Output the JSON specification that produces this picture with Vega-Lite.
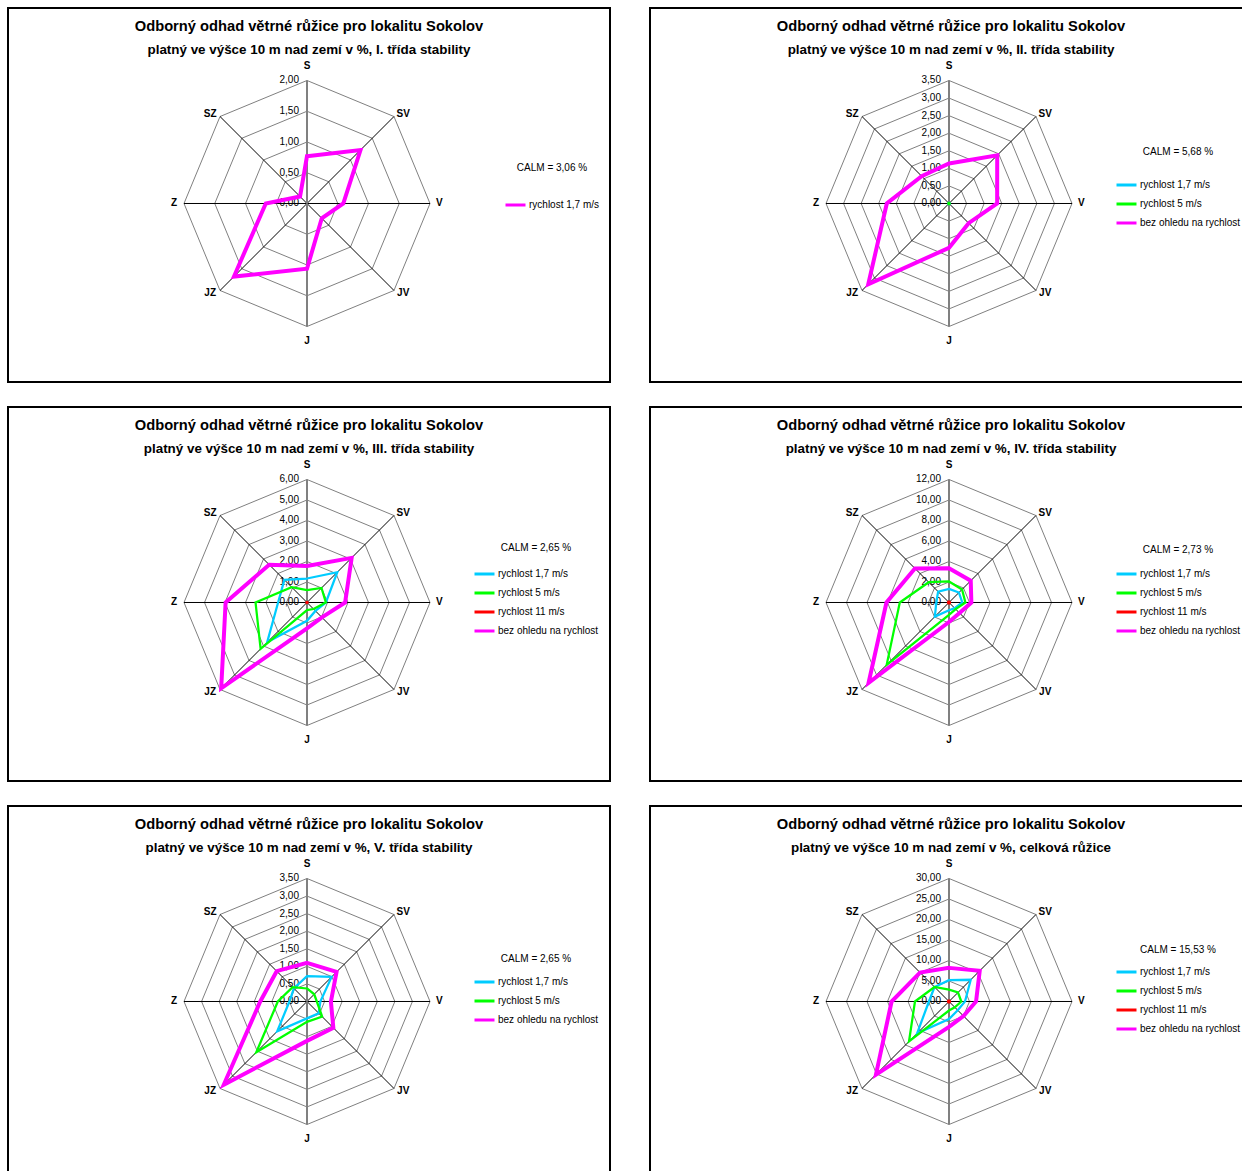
{
"$schema":"https://vega.github.io/schema/vega-lite/v6.json",
"padding":{"left":7,"top":7,"right":0,"bottom":0},
"background":"white",
"columns":2,
"spacing":{"row":23,"column":38},
"resolve":{"scale":{"color":"independent"},"legend":{"color":"independent"}},
"datasets":{
"dirs":[{"d":"S"},{"d":"SV"},{"d":"V"},{"d":"JV"},{"d":"J"},{"d":"JZ"},{"d":"Z"},{"d":"SZ"}],
"ticks":[
{"p":1,"t":[0,0.5,1,1.5,2],"k":["S","SV","V","JV","J","JZ","Z","SZ"]},
{"p":2,"t":[0,0.5,1,1.5,2,2.5,3,3.5],"k":["S","SV","V","JV","J","JZ","Z","SZ"]},
{"p":3,"t":[0,1,2,3,4,5,6],"k":["S","SV","V","JV","J","JZ","Z","SZ"]},
{"p":4,"t":[0,2,4,6,8,10,12],"k":["S","SV","V","JV","J","JZ","Z","SZ"]},
{"p":5,"t":[0,0.5,1,1.5,2,2.5,3,3.5],"k":["S","SV","V","JV","J","JZ","Z","SZ"]},
{"p":6,"t":[0,5,10,15,20,25,30],"k":["S","SV","V","JV","J","JZ","Z","SZ"]}
],
"wind":[
{"p":1,"s":"rychlost 1,7 m/s","d":"S","v":0.77},{"p":1,"s":"rychlost 1,7 m/s","d":"SV","v":1.23},{"p":1,"s":"rychlost 1,7 m/s","d":"V","v":0.59},{"p":1,"s":"rychlost 1,7 m/s","d":"JV","v":0.34},{"p":1,"s":"rychlost 1,7 m/s","d":"J","v":1.06},{"p":1,"s":"rychlost 1,7 m/s","d":"JZ","v":1.68},{"p":1,"s":"rychlost 1,7 m/s","d":"Z","v":0.67},{"p":1,"s":"rychlost 1,7 m/s","d":"SZ","v":0.16},

{"p":2,"s":"rychlost 1,7 m/s","d":"S","v":0.02},{"p":2,"s":"rychlost 1,7 m/s","d":"SV","v":0.02},{"p":2,"s":"rychlost 1,7 m/s","d":"V","v":0.02},{"p":2,"s":"rychlost 1,7 m/s","d":"JV","v":0.02},{"p":2,"s":"rychlost 1,7 m/s","d":"J","v":0.02},{"p":2,"s":"rychlost 1,7 m/s","d":"JZ","v":0.02},{"p":2,"s":"rychlost 1,7 m/s","d":"Z","v":0.02},{"p":2,"s":"rychlost 1,7 m/s","d":"SZ","v":0.02},
{"p":2,"s":"rychlost 5 m/s","d":"S","v":0.02},{"p":2,"s":"rychlost 5 m/s","d":"SV","v":0.02},{"p":2,"s":"rychlost 5 m/s","d":"V","v":0.02},{"p":2,"s":"rychlost 5 m/s","d":"JV","v":0.02},{"p":2,"s":"rychlost 5 m/s","d":"J","v":0.02},{"p":2,"s":"rychlost 5 m/s","d":"JZ","v":0.02},{"p":2,"s":"rychlost 5 m/s","d":"Z","v":0.02},{"p":2,"s":"rychlost 5 m/s","d":"SZ","v":0.02},
{"p":2,"s":"bez ohledu na rychlost","d":"S","v":1.14},{"p":2,"s":"bez ohledu na rychlost","d":"SV","v":1.94},{"p":2,"s":"bez ohledu na rychlost","d":"V","v":1.37},{"p":2,"s":"bez ohledu na rychlost","d":"JV","v":0.79},{"p":2,"s":"bez ohledu na rychlost","d":"J","v":1.26},{"p":2,"s":"bez ohledu na rychlost","d":"JZ","v":3.25},{"p":2,"s":"bez ohledu na rychlost","d":"Z","v":1.77},{"p":2,"s":"bez ohledu na rychlost","d":"SZ","v":1.10},

{"p":3,"s":"rychlost 1,7 m/s","d":"S","v":1.17},{"p":3,"s":"rychlost 1,7 m/s","d":"SV","v":2.09},{"p":3,"s":"rychlost 1,7 m/s","d":"V","v":0.92},{"p":3,"s":"rychlost 1,7 m/s","d":"JV","v":0.58},{"p":3,"s":"rychlost 1,7 m/s","d":"J","v":0.89},{"p":3,"s":"rychlost 1,7 m/s","d":"JZ","v":2.75},{"p":3,"s":"rychlost 1,7 m/s","d":"Z","v":1.41},{"p":3,"s":"rychlost 1,7 m/s","d":"SZ","v":1.56},
{"p":3,"s":"rychlost 5 m/s","d":"S","v":0.60},{"p":3,"s":"rychlost 5 m/s","d":"SV","v":1.00},{"p":3,"s":"rychlost 5 m/s","d":"V","v":0.92},{"p":3,"s":"rychlost 5 m/s","d":"JV","v":0.45},{"p":3,"s":"rychlost 5 m/s","d":"J","v":0.37},{"p":3,"s":"rychlost 5 m/s","d":"JZ","v":3.20},{"p":3,"s":"rychlost 5 m/s","d":"Z","v":2.51},{"p":3,"s":"rychlost 5 m/s","d":"SZ","v":1.06},
{"p":3,"s":"rychlost 11 m/s","d":"S","v":0.03},{"p":3,"s":"rychlost 11 m/s","d":"SV","v":0.03},{"p":3,"s":"rychlost 11 m/s","d":"V","v":0.03},{"p":3,"s":"rychlost 11 m/s","d":"JV","v":0.03},{"p":3,"s":"rychlost 11 m/s","d":"J","v":0.03},{"p":3,"s":"rychlost 11 m/s","d":"JZ","v":0.03},{"p":3,"s":"rychlost 11 m/s","d":"Z","v":0.03},{"p":3,"s":"rychlost 11 m/s","d":"SZ","v":0.03},
{"p":3,"s":"bez ohledu na rychlost","d":"S","v":1.78},{"p":3,"s":"bez ohledu na rychlost","d":"SV","v":3.08},{"p":3,"s":"bez ohledu na rychlost","d":"V","v":1.86},{"p":3,"s":"bez ohledu na rychlost","d":"JV","v":1.03},{"p":3,"s":"bez ohledu na rychlost","d":"J","v":1.26},{"p":3,"s":"bez ohledu na rychlost","d":"JZ","v":5.92},{"p":3,"s":"bez ohledu na rychlost","d":"Z","v":3.97},{"p":3,"s":"bez ohledu na rychlost","d":"SZ","v":2.61},

{"p":4,"s":"rychlost 1,7 m/s","d":"S","v":1.33},{"p":4,"s":"rychlost 1,7 m/s","d":"SV","v":1.37},{"p":4,"s":"rychlost 1,7 m/s","d":"V","v":1.3},{"p":4,"s":"rychlost 1,7 m/s","d":"JV","v":0.78},{"p":4,"s":"rychlost 1,7 m/s","d":"J","v":0.75},{"p":4,"s":"rychlost 1,7 m/s","d":"JZ","v":1.95},{"p":4,"s":"rychlost 1,7 m/s","d":"Z","v":1.24},{"p":4,"s":"rychlost 1,7 m/s","d":"SZ","v":1.5},
{"p":4,"s":"rychlost 5 m/s","d":"S","v":2.05},{"p":4,"s":"rychlost 5 m/s","d":"SV","v":1.8},{"p":4,"s":"rychlost 5 m/s","d":"V","v":1.6},{"p":4,"s":"rychlost 5 m/s","d":"JV","v":0.92},{"p":4,"s":"rychlost 5 m/s","d":"J","v":1.2},{"p":4,"s":"rychlost 5 m/s","d":"JZ","v":8.6},{"p":4,"s":"rychlost 5 m/s","d":"Z","v":4.8},{"p":4,"s":"rychlost 5 m/s","d":"SZ","v":2.8},
{"p":4,"s":"rychlost 11 m/s","d":"S","v":0.1},{"p":4,"s":"rychlost 11 m/s","d":"SV","v":0.1},{"p":4,"s":"rychlost 11 m/s","d":"V","v":0.1},{"p":4,"s":"rychlost 11 m/s","d":"JV","v":0.1},{"p":4,"s":"rychlost 11 m/s","d":"J","v":0.1},{"p":4,"s":"rychlost 11 m/s","d":"JZ","v":0.1},{"p":4,"s":"rychlost 11 m/s","d":"Z","v":0.1},{"p":4,"s":"rychlost 11 m/s","d":"SZ","v":0.1},
{"p":4,"s":"bez ohledu na rychlost","d":"S","v":3.35},{"p":4,"s":"bez ohledu na rychlost","d":"SV","v":3.0},{"p":4,"s":"bez ohledu na rychlost","d":"V","v":2.18},{"p":4,"s":"bez ohledu na rychlost","d":"JV","v":1.45},{"p":4,"s":"bez ohledu na rychlost","d":"J","v":1.9},{"p":4,"s":"bez ohledu na rychlost","d":"JZ","v":11.1},{"p":4,"s":"bez ohledu na rychlost","d":"Z","v":6.1},{"p":4,"s":"bez ohledu na rychlost","d":"SZ","v":4.7},

{"p":5,"s":"rychlost 1,7 m/s","d":"S","v":0.72},{"p":5,"s":"rychlost 1,7 m/s","d":"SV","v":0.99},{"p":5,"s":"rychlost 1,7 m/s","d":"V","v":0.38},{"p":5,"s":"rychlost 1,7 m/s","d":"JV","v":0.47},{"p":5,"s":"rychlost 1,7 m/s","d":"J","v":0.48},{"p":5,"s":"rychlost 1,7 m/s","d":"JZ","v":1.2},{"p":5,"s":"rychlost 1,7 m/s","d":"Z","v":0.5},{"p":5,"s":"rychlost 1,7 m/s","d":"SZ","v":0.53},
{"p":5,"s":"rychlost 5 m/s","d":"S","v":0.37},{"p":5,"s":"rychlost 5 m/s","d":"SV","v":0.29},{"p":5,"s":"rychlost 5 m/s","d":"V","v":0.28},{"p":5,"s":"rychlost 5 m/s","d":"JV","v":0.61},{"p":5,"s":"rychlost 5 m/s","d":"J","v":0.58},{"p":5,"s":"rychlost 5 m/s","d":"JZ","v":2.04},{"p":5,"s":"rychlost 5 m/s","d":"Z","v":0.83},{"p":5,"s":"rychlost 5 m/s","d":"SZ","v":0.58},
{"p":5,"s":"bez ohledu na rychlost","d":"S","v":1.10},{"p":5,"s":"bez ohledu na rychlost","d":"SV","v":1.19},{"p":5,"s":"bez ohledu na rychlost","d":"V","v":0.68},{"p":5,"s":"bez ohledu na rychlost","d":"JV","v":1.06},{"p":5,"s":"bez ohledu na rychlost","d":"J","v":1.12},{"p":5,"s":"bez ohledu na rychlost","d":"JZ","v":3.35},{"p":5,"s":"bez ohledu na rychlost","d":"Z","v":1.33},{"p":5,"s":"bez ohledu na rychlost","d":"SZ","v":1.22},

{"p":6,"s":"rychlost 1,7 m/s","d":"S","v":5.2},{"p":6,"s":"rychlost 1,7 m/s","d":"SV","v":7.5},{"p":6,"s":"rychlost 1,7 m/s","d":"V","v":3.9},{"p":6,"s":"rychlost 1,7 m/s","d":"JV","v":3.0},{"p":6,"s":"rychlost 1,7 m/s","d":"J","v":4.3},{"p":6,"s":"rychlost 1,7 m/s","d":"JZ","v":11.0},{"p":6,"s":"rychlost 1,7 m/s","d":"Z","v":4.9},{"p":6,"s":"rychlost 1,7 m/s","d":"SZ","v":5.0},
{"p":6,"s":"rychlost 5 m/s","d":"S","v":2.9},{"p":6,"s":"rychlost 5 m/s","d":"SV","v":3.1},{"p":6,"s":"rychlost 5 m/s","d":"V","v":3.0},{"p":6,"s":"rychlost 5 m/s","d":"JV","v":2.0},{"p":6,"s":"rychlost 5 m/s","d":"J","v":2.2},{"p":6,"s":"rychlost 5 m/s","d":"JZ","v":13.8},{"p":6,"s":"rychlost 5 m/s","d":"Z","v":8.3},{"p":6,"s":"rychlost 5 m/s","d":"SZ","v":5.0},
{"p":6,"s":"rychlost 11 m/s","d":"S","v":0.25},{"p":6,"s":"rychlost 11 m/s","d":"SV","v":0.25},{"p":6,"s":"rychlost 11 m/s","d":"V","v":0.25},{"p":6,"s":"rychlost 11 m/s","d":"JV","v":0.25},{"p":6,"s":"rychlost 11 m/s","d":"J","v":0.25},{"p":6,"s":"rychlost 11 m/s","d":"JZ","v":0.25},{"p":6,"s":"rychlost 11 m/s","d":"Z","v":0.25},{"p":6,"s":"rychlost 11 m/s","d":"SZ","v":0.25},
{"p":6,"s":"bez ohledu na rychlost","d":"S","v":8.2},{"p":6,"s":"bez ohledu na rychlost","d":"SV","v":10.6},{"p":6,"s":"bez ohledu na rychlost","d":"V","v":6.6},{"p":6,"s":"bez ohledu na rychlost","d":"JV","v":5.0},{"p":6,"s":"bez ohledu na rychlost","d":"J","v":6.2},{"p":6,"s":"bez ohledu na rychlost","d":"JZ","v":25.2},{"p":6,"s":"bez ohledu na rychlost","d":"Z","v":14.0},{"p":6,"s":"bez ohledu na rychlost","d":"SZ","v":10.0}
]
},
"concat":[
{"width":602,"height":374,
"title":{"text":"Odborný odhad větrné růžice pro lokalitu Sokolov","subtitle":"platný ve výšce 10 m nad zemí v %, I. třída stability"},
"layer":[
{"data":{"name":"ticks"},"transform":[{"filter":"datum.p == 1"},{"flatten":["t"]},{"filter":"datum.t > 0"},{"flatten":["k"]},{"calculate":"indexof(['S','SV','V','JV','J','JZ','Z','SZ'], datum.k)","as":"i"},{"calculate":"datum.t/2*sin(datum.i*PI/4)","as":"x"},{"calculate":"datum.t/2*cos(datum.i*PI/4)","as":"y"}],
"mark":{"type":"line","interpolate":"linear-closed","stroke":"#808080","strokeWidth":1},
"encoding":{"x":{"field":"x","type":"quantitative","scale":{"domain":[-2.4309,2.4634],"nice":false,"zero":false},"axis":null},"y":{"field":"y","type":"quantitative","scale":{"domain":[-1.4512,1.5894],"nice":false,"zero":false},"axis":null},"detail":{"field":"t","type":"nominal"},"order":{"field":"i","type":"quantitative"}}},
{"data":{"name":"dirs"},"transform":[{"calculate":"indexof(['S','SV','V','JV','J','JZ','Z','SZ'], datum.d)","as":"i"},{"filter":"datum.i % 4 != 0"},{"calculate":"0","as":"o"},{"calculate":"sin(datum.i*PI/4)","as":"x"},{"calculate":"cos(datum.i*PI/4)","as":"y"}],
"mark":{"type":"rule","stroke":"black","strokeWidth":1},
"encoding":{"x":{"field":"o","type":"quantitative"},"y":{"field":"o","type":"quantitative"},"x2":{"field":"x"},"y2":{"field":"y"}}},
{"data":{"name":"dirs"},"transform":[{"calculate":"indexof(['S','SV','V','JV','J','JZ','Z','SZ'], datum.d)","as":"i"},{"filter":"datum.i % 4 == 0"},{"calculate":"0","as":"o"},{"calculate":"sin(datum.i*PI/4)","as":"x"},{"calculate":"cos(datum.i*PI/4)","as":"y"}],
"mark":{"type":"rule","stroke":"#808080","strokeWidth":2},
"encoding":{"x":{"field":"o","type":"quantitative"},"y":{"field":"o","type":"quantitative"},"x2":{"field":"x"},"y2":{"field":"y"}}},
{"data":{"name":"ticks"},"transform":[{"filter":"datum.p == 1"},{"flatten":["t"]},{"calculate":"0","as":"o"},{"calculate":"datum.t/2","as":"y"},{"calculate":"replace(format(datum.t,'.2f'),'.',',')","as":"lab"}],
"mark":{"type":"text","align":"right","baseline":"middle","dx":-8,"fontSize":10,"color":"black"},
"encoding":{"x":{"field":"o","type":"quantitative"},"y":{"field":"y","type":"quantitative"},"text":{"field":"lab","type":"nominal"}}},
{"data":{"name":"dirs"},"transform":[{"calculate":"indexof(['S','SV','V','JV','J','JZ','Z','SZ'], datum.d)","as":"i"},{"calculate":"round(sin(datum.i*PI/4)*1000)/1000","as":"sn"},{"calculate":"round(cos(datum.i*PI/4)*1000)/1000","as":"cs"},{"calculate":"datum.sn + (datum.sn > 0 ? 0.075 : datum.sn < 0 ? -0.08 : 0)","as":"x"},{"calculate":"datum.cs + 0.12*pow(datum.cs,5)","as":"y"}],
"mark":{"type":"text","align":"center","baseline":"middle","fontSize":10,"fontWeight":"bold","color":"black"},
"encoding":{"x":{"field":"x","type":"quantitative"},"y":{"field":"y","type":"quantitative"},"text":{"field":"d","type":"nominal"}}},
{"data":{"name":"wind"},"transform":[{"filter":"datum.p == 1"},{"calculate":"indexof(['S','SV','V','JV','J','JZ','Z','SZ'], datum.d)","as":"i"},{"calculate":"datum.v/2*sin(datum.i*PI/4)","as":"x"},{"calculate":"datum.v/2*cos(datum.i*PI/4)","as":"y"}],
"mark":{"type":"line","interpolate":"linear-closed","strokeWidth":4},
"encoding":{"x":{"field":"x","type":"quantitative"},"y":{"field":"y","type":"quantitative"},"order":{"field":"i","type":"quantitative"},
"color":{"field":"s","type":"nominal","scale":{"domain":["rychlost 1,7 m/s"],"range":["#FF00FF"]},"legend":{"title":"CALM = 3,06 %","orient":"none","legendX":496,"legendY":154.5,"titlePadding":21,"titleAnchor":"middle"}}}}
]},

{"width":602,"height":374,
"title":{"text":"Odborný odhad větrné růžice pro lokalitu Sokolov","subtitle":"platný ve výšce 10 m nad zemí v %, II. třída stability"},
"layer":[
{"data":{"name":"ticks"},"transform":[{"filter":"datum.p == 2"},{"flatten":["t"]},{"filter":"datum.t > 0"},{"flatten":["k"]},{"calculate":"indexof(['S','SV','V','JV','J','JZ','Z','SZ'], datum.k)","as":"i"},{"calculate":"datum.t/3.5*sin(datum.i*PI/4)","as":"x"},{"calculate":"datum.t/3.5*cos(datum.i*PI/4)","as":"y"}],
"mark":{"type":"line","interpolate":"linear-closed","stroke":"#808080","strokeWidth":1},
"encoding":{"x":{"field":"x","type":"quantitative","scale":{"domain":[-2.4309,2.4634],"nice":false,"zero":false},"axis":null},"y":{"field":"y","type":"quantitative","scale":{"domain":[-1.4512,1.5894],"nice":false,"zero":false},"axis":null},"detail":{"field":"t","type":"nominal"},"order":{"field":"i","type":"quantitative"}}},
{"data":{"name":"dirs"},"transform":[{"calculate":"indexof(['S','SV','V','JV','J','JZ','Z','SZ'], datum.d)","as":"i"},{"filter":"datum.i % 4 != 0"},{"calculate":"0","as":"o"},{"calculate":"sin(datum.i*PI/4)","as":"x"},{"calculate":"cos(datum.i*PI/4)","as":"y"}],
"mark":{"type":"rule","stroke":"black","strokeWidth":1},
"encoding":{"x":{"field":"o","type":"quantitative"},"y":{"field":"o","type":"quantitative"},"x2":{"field":"x"},"y2":{"field":"y"}}},
{"data":{"name":"dirs"},"transform":[{"calculate":"indexof(['S','SV','V','JV','J','JZ','Z','SZ'], datum.d)","as":"i"},{"filter":"datum.i % 4 == 0"},{"calculate":"0","as":"o"},{"calculate":"sin(datum.i*PI/4)","as":"x"},{"calculate":"cos(datum.i*PI/4)","as":"y"}],
"mark":{"type":"rule","stroke":"#808080","strokeWidth":2},
"encoding":{"x":{"field":"o","type":"quantitative"},"y":{"field":"o","type":"quantitative"},"x2":{"field":"x"},"y2":{"field":"y"}}},
{"data":{"name":"ticks"},"transform":[{"filter":"datum.p == 2"},{"flatten":["t"]},{"calculate":"0","as":"o"},{"calculate":"datum.t/3.5","as":"y"},{"calculate":"replace(format(datum.t,'.2f'),'.',',')","as":"lab"}],
"mark":{"type":"text","align":"right","baseline":"middle","dx":-8,"fontSize":10,"color":"black"},
"encoding":{"x":{"field":"o","type":"quantitative"},"y":{"field":"y","type":"quantitative"},"text":{"field":"lab","type":"nominal"}}},
{"data":{"name":"dirs"},"transform":[{"calculate":"indexof(['S','SV','V','JV','J','JZ','Z','SZ'], datum.d)","as":"i"},{"calculate":"round(sin(datum.i*PI/4)*1000)/1000","as":"sn"},{"calculate":"round(cos(datum.i*PI/4)*1000)/1000","as":"cs"},{"calculate":"datum.sn + (datum.sn > 0 ? 0.075 : datum.sn < 0 ? -0.08 : 0)","as":"x"},{"calculate":"datum.cs + 0.12*pow(datum.cs,5)","as":"y"}],
"mark":{"type":"text","align":"center","baseline":"middle","fontSize":10,"fontWeight":"bold","color":"black"},
"encoding":{"x":{"field":"x","type":"quantitative"},"y":{"field":"y","type":"quantitative"},"text":{"field":"d","type":"nominal"}}},
{"data":{"name":"wind"},"transform":[{"filter":"datum.p == 2 && datum.s != 'bez ohledu na rychlost'"},{"calculate":"indexof(['S','SV','V','JV','J','JZ','Z','SZ'], datum.d)","as":"i"},{"calculate":"datum.v/3.5*sin(datum.i*PI/4)","as":"x"},{"calculate":"datum.v/3.5*cos(datum.i*PI/4)","as":"y"}],
"mark":{"type":"line","interpolate":"linear-closed","strokeWidth":2.25},
"encoding":{"x":{"field":"x","type":"quantitative"},"y":{"field":"y","type":"quantitative"},"order":{"field":"i","type":"quantitative"},
"color":{"field":"s","type":"nominal","scale":{"domain":["rychlost 1,7 m/s","rychlost 5 m/s","bez ohledu na rychlost"],"range":["#00CCFF","#00FF00","#FF00FF"]},"legend":{"title":"CALM = 5,68 %","orient":"none","legendX":465,"legendY":138.5,"titlePadding":17,"titleAnchor":"middle"}}}},
{"data":{"name":"wind"},"transform":[{"filter":"datum.p == 2 && datum.s == 'bez ohledu na rychlost'"},{"calculate":"indexof(['S','SV','V','JV','J','JZ','Z','SZ'], datum.d)","as":"i"},{"calculate":"datum.v/3.5*sin(datum.i*PI/4)","as":"x"},{"calculate":"datum.v/3.5*cos(datum.i*PI/4)","as":"y"}],
"mark":{"type":"line","interpolate":"linear-closed","strokeWidth":4},
"encoding":{"x":{"field":"x","type":"quantitative"},"y":{"field":"y","type":"quantitative"},"order":{"field":"i","type":"quantitative"},
"color":{"field":"s","type":"nominal","scale":{"domain":["rychlost 1,7 m/s","rychlost 5 m/s","bez ohledu na rychlost"],"range":["#00CCFF","#00FF00","#FF00FF"]},"legend":{"title":"CALM = 5,68 %","orient":"none","legendX":465,"legendY":138.5,"titlePadding":17,"titleAnchor":"middle"}}}}
]},

{"width":602,"height":374,
"title":{"text":"Odborný odhad větrné růžice pro lokalitu Sokolov","subtitle":"platný ve výšce 10 m nad zemí v %, III. třída stability"},
"layer":[
{"data":{"name":"ticks"},"transform":[{"filter":"datum.p == 3"},{"flatten":["t"]},{"filter":"datum.t > 0"},{"flatten":["k"]},{"calculate":"indexof(['S','SV','V','JV','J','JZ','Z','SZ'], datum.k)","as":"i"},{"calculate":"datum.t/6*sin(datum.i*PI/4)","as":"x"},{"calculate":"datum.t/6*cos(datum.i*PI/4)","as":"y"}],
"mark":{"type":"line","interpolate":"linear-closed","stroke":"#808080","strokeWidth":1},
"encoding":{"x":{"field":"x","type":"quantitative","scale":{"domain":[-2.4309,2.4634],"nice":false,"zero":false},"axis":null},"y":{"field":"y","type":"quantitative","scale":{"domain":[-1.4512,1.5894],"nice":false,"zero":false},"axis":null},"detail":{"field":"t","type":"nominal"},"order":{"field":"i","type":"quantitative"}}},
{"data":{"name":"dirs"},"transform":[{"calculate":"indexof(['S','SV','V','JV','J','JZ','Z','SZ'], datum.d)","as":"i"},{"filter":"datum.i % 4 != 0"},{"calculate":"0","as":"o"},{"calculate":"sin(datum.i*PI/4)","as":"x"},{"calculate":"cos(datum.i*PI/4)","as":"y"}],
"mark":{"type":"rule","stroke":"black","strokeWidth":1},
"encoding":{"x":{"field":"o","type":"quantitative"},"y":{"field":"o","type":"quantitative"},"x2":{"field":"x"},"y2":{"field":"y"}}},
{"data":{"name":"dirs"},"transform":[{"calculate":"indexof(['S','SV','V','JV','J','JZ','Z','SZ'], datum.d)","as":"i"},{"filter":"datum.i % 4 == 0"},{"calculate":"0","as":"o"},{"calculate":"sin(datum.i*PI/4)","as":"x"},{"calculate":"cos(datum.i*PI/4)","as":"y"}],
"mark":{"type":"rule","stroke":"#808080","strokeWidth":2},
"encoding":{"x":{"field":"o","type":"quantitative"},"y":{"field":"o","type":"quantitative"},"x2":{"field":"x"},"y2":{"field":"y"}}},
{"data":{"name":"ticks"},"transform":[{"filter":"datum.p == 3"},{"flatten":["t"]},{"calculate":"0","as":"o"},{"calculate":"datum.t/6","as":"y"},{"calculate":"replace(format(datum.t,'.2f'),'.',',')","as":"lab"}],
"mark":{"type":"text","align":"right","baseline":"middle","dx":-8,"fontSize":10,"color":"black"},
"encoding":{"x":{"field":"o","type":"quantitative"},"y":{"field":"y","type":"quantitative"},"text":{"field":"lab","type":"nominal"}}},
{"data":{"name":"dirs"},"transform":[{"calculate":"indexof(['S','SV','V','JV','J','JZ','Z','SZ'], datum.d)","as":"i"},{"calculate":"round(sin(datum.i*PI/4)*1000)/1000","as":"sn"},{"calculate":"round(cos(datum.i*PI/4)*1000)/1000","as":"cs"},{"calculate":"datum.sn + (datum.sn > 0 ? 0.075 : datum.sn < 0 ? -0.08 : 0)","as":"x"},{"calculate":"datum.cs + 0.12*pow(datum.cs,5)","as":"y"}],
"mark":{"type":"text","align":"center","baseline":"middle","fontSize":10,"fontWeight":"bold","color":"black"},
"encoding":{"x":{"field":"x","type":"quantitative"},"y":{"field":"y","type":"quantitative"},"text":{"field":"d","type":"nominal"}}},
{"data":{"name":"wind"},"transform":[{"filter":"datum.p == 3 && datum.s != 'bez ohledu na rychlost'"},{"calculate":"indexof(['S','SV','V','JV','J','JZ','Z','SZ'], datum.d)","as":"i"},{"calculate":"datum.v/6*sin(datum.i*PI/4)","as":"x"},{"calculate":"datum.v/6*cos(datum.i*PI/4)","as":"y"}],
"mark":{"type":"line","interpolate":"linear-closed","strokeWidth":2.25},
"encoding":{"x":{"field":"x","type":"quantitative"},"y":{"field":"y","type":"quantitative"},"order":{"field":"i","type":"quantitative"},
"color":{"field":"s","type":"nominal","scale":{"domain":["rychlost 1,7 m/s","rychlost 5 m/s","rychlost 11 m/s","bez ohledu na rychlost"],"range":["#00CCFF","#00FF00","#FF0000","#FF00FF"]},"legend":{"title":"CALM = 2,65 %","orient":"none","legendX":465,"legendY":135.5,"titlePadding":10,"titleAnchor":"middle"}}}},
{"data":{"name":"wind"},"transform":[{"filter":"datum.p == 3 && datum.s == 'bez ohledu na rychlost'"},{"calculate":"indexof(['S','SV','V','JV','J','JZ','Z','SZ'], datum.d)","as":"i"},{"calculate":"datum.v/6*sin(datum.i*PI/4)","as":"x"},{"calculate":"datum.v/6*cos(datum.i*PI/4)","as":"y"}],
"mark":{"type":"line","interpolate":"linear-closed","strokeWidth":4},
"encoding":{"x":{"field":"x","type":"quantitative"},"y":{"field":"y","type":"quantitative"},"order":{"field":"i","type":"quantitative"},
"color":{"field":"s","type":"nominal","scale":{"domain":["rychlost 1,7 m/s","rychlost 5 m/s","rychlost 11 m/s","bez ohledu na rychlost"],"range":["#00CCFF","#00FF00","#FF0000","#FF00FF"]},"legend":{"title":"CALM = 2,65 %","orient":"none","legendX":465,"legendY":135.5,"titlePadding":10,"titleAnchor":"middle"}}}}
]},

{"width":602,"height":374,
"title":{"text":"Odborný odhad větrné růžice pro lokalitu Sokolov","subtitle":"platný ve výšce 10 m nad zemí v %, IV. třída stability"},
"layer":[
{"data":{"name":"ticks"},"transform":[{"filter":"datum.p == 4"},{"flatten":["t"]},{"filter":"datum.t > 0"},{"flatten":["k"]},{"calculate":"indexof(['S','SV','V','JV','J','JZ','Z','SZ'], datum.k)","as":"i"},{"calculate":"datum.t/12*sin(datum.i*PI/4)","as":"x"},{"calculate":"datum.t/12*cos(datum.i*PI/4)","as":"y"}],
"mark":{"type":"line","interpolate":"linear-closed","stroke":"#808080","strokeWidth":1},
"encoding":{"x":{"field":"x","type":"quantitative","scale":{"domain":[-2.4309,2.4634],"nice":false,"zero":false},"axis":null},"y":{"field":"y","type":"quantitative","scale":{"domain":[-1.4512,1.5894],"nice":false,"zero":false},"axis":null},"detail":{"field":"t","type":"nominal"},"order":{"field":"i","type":"quantitative"}}},
{"data":{"name":"dirs"},"transform":[{"calculate":"indexof(['S','SV','V','JV','J','JZ','Z','SZ'], datum.d)","as":"i"},{"filter":"datum.i % 4 != 0"},{"calculate":"0","as":"o"},{"calculate":"sin(datum.i*PI/4)","as":"x"},{"calculate":"cos(datum.i*PI/4)","as":"y"}],
"mark":{"type":"rule","stroke":"black","strokeWidth":1},
"encoding":{"x":{"field":"o","type":"quantitative"},"y":{"field":"o","type":"quantitative"},"x2":{"field":"x"},"y2":{"field":"y"}}},
{"data":{"name":"dirs"},"transform":[{"calculate":"indexof(['S','SV','V','JV','J','JZ','Z','SZ'], datum.d)","as":"i"},{"filter":"datum.i % 4 == 0"},{"calculate":"0","as":"o"},{"calculate":"sin(datum.i*PI/4)","as":"x"},{"calculate":"cos(datum.i*PI/4)","as":"y"}],
"mark":{"type":"rule","stroke":"#808080","strokeWidth":2},
"encoding":{"x":{"field":"o","type":"quantitative"},"y":{"field":"o","type":"quantitative"},"x2":{"field":"x"},"y2":{"field":"y"}}},
{"data":{"name":"ticks"},"transform":[{"filter":"datum.p == 4"},{"flatten":["t"]},{"calculate":"0","as":"o"},{"calculate":"datum.t/12","as":"y"},{"calculate":"replace(format(datum.t,'.2f'),'.',',')","as":"lab"}],
"mark":{"type":"text","align":"right","baseline":"middle","dx":-8,"fontSize":10,"color":"black"},
"encoding":{"x":{"field":"o","type":"quantitative"},"y":{"field":"y","type":"quantitative"},"text":{"field":"lab","type":"nominal"}}},
{"data":{"name":"dirs"},"transform":[{"calculate":"indexof(['S','SV','V','JV','J','JZ','Z','SZ'], datum.d)","as":"i"},{"calculate":"round(sin(datum.i*PI/4)*1000)/1000","as":"sn"},{"calculate":"round(cos(datum.i*PI/4)*1000)/1000","as":"cs"},{"calculate":"datum.sn + (datum.sn > 0 ? 0.075 : datum.sn < 0 ? -0.08 : 0)","as":"x"},{"calculate":"datum.cs + 0.12*pow(datum.cs,5)","as":"y"}],
"mark":{"type":"text","align":"center","baseline":"middle","fontSize":10,"fontWeight":"bold","color":"black"},
"encoding":{"x":{"field":"x","type":"quantitative"},"y":{"field":"y","type":"quantitative"},"text":{"field":"d","type":"nominal"}}},
{"data":{"name":"wind"},"transform":[{"filter":"datum.p == 4 && datum.s != 'bez ohledu na rychlost'"},{"calculate":"indexof(['S','SV','V','JV','J','JZ','Z','SZ'], datum.d)","as":"i"},{"calculate":"datum.v/12*sin(datum.i*PI/4)","as":"x"},{"calculate":"datum.v/12*cos(datum.i*PI/4)","as":"y"}],
"mark":{"type":"line","interpolate":"linear-closed","strokeWidth":2.25},
"encoding":{"x":{"field":"x","type":"quantitative"},"y":{"field":"y","type":"quantitative"},"order":{"field":"i","type":"quantitative"},
"color":{"field":"s","type":"nominal","scale":{"domain":["rychlost 1,7 m/s","rychlost 5 m/s","rychlost 11 m/s","bez ohledu na rychlost"],"range":["#00CCFF","#00FF00","#FF0000","#FF00FF"]},"legend":{"title":"CALM = 2,73 %","orient":"none","legendX":465,"legendY":137.5,"titlePadding":8,"titleAnchor":"middle"}}}},
{"data":{"name":"wind"},"transform":[{"filter":"datum.p == 4 && datum.s == 'bez ohledu na rychlost'"},{"calculate":"indexof(['S','SV','V','JV','J','JZ','Z','SZ'], datum.d)","as":"i"},{"calculate":"datum.v/12*sin(datum.i*PI/4)","as":"x"},{"calculate":"datum.v/12*cos(datum.i*PI/4)","as":"y"}],
"mark":{"type":"line","interpolate":"linear-closed","strokeWidth":4},
"encoding":{"x":{"field":"x","type":"quantitative"},"y":{"field":"y","type":"quantitative"},"order":{"field":"i","type":"quantitative"},
"color":{"field":"s","type":"nominal","scale":{"domain":["rychlost 1,7 m/s","rychlost 5 m/s","rychlost 11 m/s","bez ohledu na rychlost"],"range":["#00CCFF","#00FF00","#FF0000","#FF00FF"]},"legend":{"title":"CALM = 2,73 %","orient":"none","legendX":465,"legendY":137.5,"titlePadding":8,"titleAnchor":"middle"}}}}
]},

{"width":602,"height":374,
"title":{"text":"Odborný odhad větrné růžice pro lokalitu Sokolov","subtitle":"platný ve výšce 10 m nad zemí v %, V. třída stability"},
"layer":[
{"data":{"name":"ticks"},"transform":[{"filter":"datum.p == 5"},{"flatten":["t"]},{"filter":"datum.t > 0"},{"flatten":["k"]},{"calculate":"indexof(['S','SV','V','JV','J','JZ','Z','SZ'], datum.k)","as":"i"},{"calculate":"datum.t/3.5*sin(datum.i*PI/4)","as":"x"},{"calculate":"datum.t/3.5*cos(datum.i*PI/4)","as":"y"}],
"mark":{"type":"line","interpolate":"linear-closed","stroke":"#808080","strokeWidth":1},
"encoding":{"x":{"field":"x","type":"quantitative","scale":{"domain":[-2.4309,2.4634],"nice":false,"zero":false},"axis":null},"y":{"field":"y","type":"quantitative","scale":{"domain":[-1.4512,1.5894],"nice":false,"zero":false},"axis":null},"detail":{"field":"t","type":"nominal"},"order":{"field":"i","type":"quantitative"}}},
{"data":{"name":"dirs"},"transform":[{"calculate":"indexof(['S','SV','V','JV','J','JZ','Z','SZ'], datum.d)","as":"i"},{"filter":"datum.i % 4 != 0"},{"calculate":"0","as":"o"},{"calculate":"sin(datum.i*PI/4)","as":"x"},{"calculate":"cos(datum.i*PI/4)","as":"y"}],
"mark":{"type":"rule","stroke":"black","strokeWidth":1},
"encoding":{"x":{"field":"o","type":"quantitative"},"y":{"field":"o","type":"quantitative"},"x2":{"field":"x"},"y2":{"field":"y"}}},
{"data":{"name":"dirs"},"transform":[{"calculate":"indexof(['S','SV','V','JV','J','JZ','Z','SZ'], datum.d)","as":"i"},{"filter":"datum.i % 4 == 0"},{"calculate":"0","as":"o"},{"calculate":"sin(datum.i*PI/4)","as":"x"},{"calculate":"cos(datum.i*PI/4)","as":"y"}],
"mark":{"type":"rule","stroke":"#808080","strokeWidth":2},
"encoding":{"x":{"field":"o","type":"quantitative"},"y":{"field":"o","type":"quantitative"},"x2":{"field":"x"},"y2":{"field":"y"}}},
{"data":{"name":"ticks"},"transform":[{"filter":"datum.p == 5"},{"flatten":["t"]},{"calculate":"0","as":"o"},{"calculate":"datum.t/3.5","as":"y"},{"calculate":"replace(format(datum.t,'.2f'),'.',',')","as":"lab"}],
"mark":{"type":"text","align":"right","baseline":"middle","dx":-8,"fontSize":10,"color":"black"},
"encoding":{"x":{"field":"o","type":"quantitative"},"y":{"field":"y","type":"quantitative"},"text":{"field":"lab","type":"nominal"}}},
{"data":{"name":"dirs"},"transform":[{"calculate":"indexof(['S','SV','V','JV','J','JZ','Z','SZ'], datum.d)","as":"i"},{"calculate":"round(sin(datum.i*PI/4)*1000)/1000","as":"sn"},{"calculate":"round(cos(datum.i*PI/4)*1000)/1000","as":"cs"},{"calculate":"datum.sn + (datum.sn > 0 ? 0.075 : datum.sn < 0 ? -0.08 : 0)","as":"x"},{"calculate":"datum.cs + 0.12*pow(datum.cs,5)","as":"y"}],
"mark":{"type":"text","align":"center","baseline":"middle","fontSize":10,"fontWeight":"bold","color":"black"},
"encoding":{"x":{"field":"x","type":"quantitative"},"y":{"field":"y","type":"quantitative"},"text":{"field":"d","type":"nominal"}}},
{"data":{"name":"wind"},"transform":[{"filter":"datum.p == 5 && datum.s != 'bez ohledu na rychlost'"},{"calculate":"indexof(['S','SV','V','JV','J','JZ','Z','SZ'], datum.d)","as":"i"},{"calculate":"datum.v/3.5*sin(datum.i*PI/4)","as":"x"},{"calculate":"datum.v/3.5*cos(datum.i*PI/4)","as":"y"}],
"mark":{"type":"line","interpolate":"linear-closed","strokeWidth":2.25},
"encoding":{"x":{"field":"x","type":"quantitative"},"y":{"field":"y","type":"quantitative"},"order":{"field":"i","type":"quantitative"},
"color":{"field":"s","type":"nominal","scale":{"domain":["rychlost 1,7 m/s","rychlost 5 m/s","bez ohledu na rychlost"],"range":["#00CCFF","#00FF00","#FF00FF"]},"legend":{"title":"CALM = 2,65 %","orient":"none","legendX":465,"legendY":147.5,"titlePadding":7,"titleAnchor":"middle"}}}},
{"data":{"name":"wind"},"transform":[{"filter":"datum.p == 5 && datum.s == 'bez ohledu na rychlost'"},{"calculate":"indexof(['S','SV','V','JV','J','JZ','Z','SZ'], datum.d)","as":"i"},{"calculate":"datum.v/3.5*sin(datum.i*PI/4)","as":"x"},{"calculate":"datum.v/3.5*cos(datum.i*PI/4)","as":"y"}],
"mark":{"type":"line","interpolate":"linear-closed","strokeWidth":4},
"encoding":{"x":{"field":"x","type":"quantitative"},"y":{"field":"y","type":"quantitative"},"order":{"field":"i","type":"quantitative"},
"color":{"field":"s","type":"nominal","scale":{"domain":["rychlost 1,7 m/s","rychlost 5 m/s","bez ohledu na rychlost"],"range":["#00CCFF","#00FF00","#FF00FF"]},"legend":{"title":"CALM = 2,65 %","orient":"none","legendX":465,"legendY":147.5,"titlePadding":7,"titleAnchor":"middle"}}}}
]},

{"width":602,"height":374,
"title":{"text":"Odborný odhad větrné růžice pro lokalitu Sokolov","subtitle":"platný ve výšce 10 m nad zemí v %, celková růžice"},
"layer":[
{"data":{"name":"ticks"},"transform":[{"filter":"datum.p == 6"},{"flatten":["t"]},{"filter":"datum.t > 0"},{"flatten":["k"]},{"calculate":"indexof(['S','SV','V','JV','J','JZ','Z','SZ'], datum.k)","as":"i"},{"calculate":"datum.t/30*sin(datum.i*PI/4)","as":"x"},{"calculate":"datum.t/30*cos(datum.i*PI/4)","as":"y"}],
"mark":{"type":"line","interpolate":"linear-closed","stroke":"#808080","strokeWidth":1},
"encoding":{"x":{"field":"x","type":"quantitative","scale":{"domain":[-2.4309,2.4634],"nice":false,"zero":false},"axis":null},"y":{"field":"y","type":"quantitative","scale":{"domain":[-1.4512,1.5894],"nice":false,"zero":false},"axis":null},"detail":{"field":"t","type":"nominal"},"order":{"field":"i","type":"quantitative"}}},
{"data":{"name":"dirs"},"transform":[{"calculate":"indexof(['S','SV','V','JV','J','JZ','Z','SZ'], datum.d)","as":"i"},{"filter":"datum.i % 4 != 0"},{"calculate":"0","as":"o"},{"calculate":"sin(datum.i*PI/4)","as":"x"},{"calculate":"cos(datum.i*PI/4)","as":"y"}],
"mark":{"type":"rule","stroke":"black","strokeWidth":1},
"encoding":{"x":{"field":"o","type":"quantitative"},"y":{"field":"o","type":"quantitative"},"x2":{"field":"x"},"y2":{"field":"y"}}},
{"data":{"name":"dirs"},"transform":[{"calculate":"indexof(['S','SV','V','JV','J','JZ','Z','SZ'], datum.d)","as":"i"},{"filter":"datum.i % 4 == 0"},{"calculate":"0","as":"o"},{"calculate":"sin(datum.i*PI/4)","as":"x"},{"calculate":"cos(datum.i*PI/4)","as":"y"}],
"mark":{"type":"rule","stroke":"#808080","strokeWidth":2},
"encoding":{"x":{"field":"o","type":"quantitative"},"y":{"field":"o","type":"quantitative"},"x2":{"field":"x"},"y2":{"field":"y"}}},
{"data":{"name":"ticks"},"transform":[{"filter":"datum.p == 6"},{"flatten":["t"]},{"calculate":"0","as":"o"},{"calculate":"datum.t/30","as":"y"},{"calculate":"replace(format(datum.t,'.2f'),'.',',')","as":"lab"}],
"mark":{"type":"text","align":"right","baseline":"middle","dx":-8,"fontSize":10,"color":"black"},
"encoding":{"x":{"field":"o","type":"quantitative"},"y":{"field":"y","type":"quantitative"},"text":{"field":"lab","type":"nominal"}}},
{"data":{"name":"dirs"},"transform":[{"calculate":"indexof(['S','SV','V','JV','J','JZ','Z','SZ'], datum.d)","as":"i"},{"calculate":"round(sin(datum.i*PI/4)*1000)/1000","as":"sn"},{"calculate":"round(cos(datum.i*PI/4)*1000)/1000","as":"cs"},{"calculate":"datum.sn + (datum.sn > 0 ? 0.075 : datum.sn < 0 ? -0.08 : 0)","as":"x"},{"calculate":"datum.cs + 0.12*pow(datum.cs,5)","as":"y"}],
"mark":{"type":"text","align":"center","baseline":"middle","fontSize":10,"fontWeight":"bold","color":"black"},
"encoding":{"x":{"field":"x","type":"quantitative"},"y":{"field":"y","type":"quantitative"},"text":{"field":"d","type":"nominal"}}},
{"data":{"name":"wind"},"transform":[{"filter":"datum.p == 6 && datum.s != 'bez ohledu na rychlost'"},{"calculate":"indexof(['S','SV','V','JV','J','JZ','Z','SZ'], datum.d)","as":"i"},{"calculate":"datum.v/30*sin(datum.i*PI/4)","as":"x"},{"calculate":"datum.v/30*cos(datum.i*PI/4)","as":"y"}],
"mark":{"type":"line","interpolate":"linear-closed","strokeWidth":2.25},
"encoding":{"x":{"field":"x","type":"quantitative"},"y":{"field":"y","type":"quantitative"},"order":{"field":"i","type":"quantitative"},
"color":{"field":"s","type":"nominal","scale":{"domain":["rychlost 1,7 m/s","rychlost 5 m/s","rychlost 11 m/s","bez ohledu na rychlost"],"range":["#00CCFF","#00FF00","#FF0000","#FF00FF"]},"legend":{"title":"CALM = 15,53 %","orient":"none","legendX":465,"legendY":138.5,"titlePadding":6,"titleAnchor":"middle"}}}},
{"data":{"name":"wind"},"transform":[{"filter":"datum.p == 6 && datum.s == 'bez ohledu na rychlost'"},{"calculate":"indexof(['S','SV','V','JV','J','JZ','Z','SZ'], datum.d)","as":"i"},{"calculate":"datum.v/30*sin(datum.i*PI/4)","as":"x"},{"calculate":"datum.v/30*cos(datum.i*PI/4)","as":"y"}],
"mark":{"type":"line","interpolate":"linear-closed","strokeWidth":4},
"encoding":{"x":{"field":"x","type":"quantitative"},"y":{"field":"y","type":"quantitative"},"order":{"field":"i","type":"quantitative"},
"color":{"field":"s","type":"nominal","scale":{"domain":["rychlost 1,7 m/s","rychlost 5 m/s","rychlost 11 m/s","bez ohledu na rychlost"],"range":["#00CCFF","#00FF00","#FF0000","#FF00FF"]},"legend":{"title":"CALM = 15,53 %","orient":"none","legendX":465,"legendY":138.5,"titlePadding":6,"titleAnchor":"middle"}}}}
]}
],
"config":{
"view":{"stroke":"black","strokeWidth":2},
"font":"Liberation Sans",
"title":{"font":"Liberation Sans","fontSize":14.7,"fontWeight":"bold","color":"black","subtitleFont":"Liberation Sans","subtitleFontSize":13.4,"subtitleFontWeight":"bold","subtitleColor":"black","subtitlePadding":9,"offset":-48,"anchor":"middle"},
"legend":{"symbolType":"stroke","symbolSize":400,"symbolStrokeWidth":3,"labelFont":"Liberation Sans","labelFontSize":10,"labelColor":"black","labelOffset":2,"labelLimit":300,"titleFont":"Liberation Sans","titleFontSize":10,"titleFontWeight":"normal","titleColor":"black","titleLimit":300,"rowPadding":1}
}
}
